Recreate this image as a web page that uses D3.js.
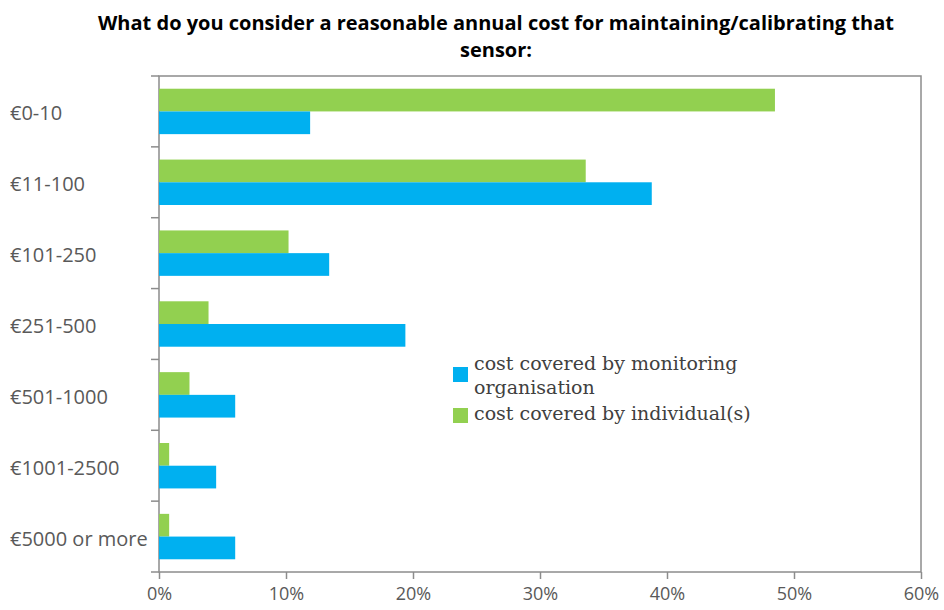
<!DOCTYPE html>
<html>
<head>
<meta charset="utf-8">
<script src="https://cdn.jsdelivr.net/npm/d3@7"></script>
<style>
	body { margin: 0; background: #fff; }
	svg { display: block; }
</style>
</head>
<body>
<div id="chart"></div>
<script>
// DATA
const categories = ['€0-10', '€11-100', '€101-250', '€251-500', '€501-1000', '€1001-2500', '€5000 or more'];
const organisation = [11.9, 38.8, 13.4, 19.4, 6.0, 4.5, 6.0];
const individual = [48.5, 33.6, 10.2, 3.9, 2.4, 0.8, 0.8];
const xTicks = [0, 10, 20, 30, 40, 50, 60];
const seriesNames = ['cost covered by monitoring organisation', 'cost covered by individual(s)'];
const titleLines = ['What do you consider a reasonable annual cost for maintaining/calibrating that', 'sensor:'];

const w = 944, h = 610;
const m = { left: 159, right: 23, top: 76, bottom: 38 };
const axisColor = '#8c8c8c';
const labelColor = '#595959';
const blue = '#00B0F0', green = '#92D050';
const tickFont = '"Open Sans", "DejaVu Sans", sans-serif';

const svg = d3.select('#chart').append('svg')
	.attr('width', w)
	.attr('height', h);

// scales
const x = d3.scaleLinear().domain([0, 60]).range([m.left, w - m.right]);
const y = d3.scaleBand().domain(categories).range([m.top, h - m.bottom]);
const sub = d3.scaleBand().domain(['ind', 'org']).range([0, y.bandwidth()]).paddingOuter(0.56).paddingInner(0);

// title
svg.append('g').selectAll('text')
	.data(titleLines)
	.enter().append('text')
	.attr('x', 496)
	.attr('y', (d, i) => 30 + i * 27)
	.attr('text-anchor', 'middle')
	.style('font-family', '"Open Sans", sans-serif')
	.style('font-weight', 'bold')
	.style('font-size', '20px')
	.style('fill', '#000')
	.text(d => d);

// plot frame
svg.append('rect')
	.attr('x', m.left)
	.attr('y', m.top)
	.attr('width', w - m.right - m.left)
	.attr('height', h - m.bottom - m.top)
	.attr('fill', 'none')
	.attr('stroke', axisColor)
	.attr('stroke-width', 1.5);

// bars
const rows = svg.append('g').selectAll('g')
	.data(categories)
	.enter().append('g')
	.attr('transform', d => `translate(0, ${y(d)})`);
rows.append('rect')
	.attr('x', x(0))
	.attr('y', sub('ind'))
	.attr('height', sub.bandwidth())
	.attr('width', (d, i) => x(individual[i]) - x(0))
	.attr('fill', green);
rows.append('rect')
	.attr('x', x(0))
	.attr('y', sub('org'))
	.attr('height', sub.bandwidth())
	.attr('width', (d, i) => x(organisation[i]) - x(0))
	.attr('fill', blue);

// axes
const yAxis = d3.axisLeft(y).tickSize(0);
const yg = svg.append('g')
	.attr('transform', `translate(${m.left}, 0)`)
	.call(yAxis);
yg.select('.domain').remove();
yg.selectAll('text')
	.attr('x', -149)
	.attr('dy', '0.45em')
	.attr('text-anchor', 'start')
	.style('font-family', tickFont)
	.style('font-size', '20px')
	.style('fill', labelColor);
// category boundary ticks
svg.append('g').selectAll('line')
	.data(categories.concat(['end']))
	.enter().append('line')
	.attr('x1', m.left - 8)
	.attr('x2', m.left)
	.attr('y1', (d, i) => i < categories.length ? y(d) : h - m.bottom)
	.attr('y2', (d, i) => i < categories.length ? y(d) : h - m.bottom)
	.attr('stroke', axisColor)
	.attr('stroke-width', 1.5);

const xAxis = d3.axisBottom(x).tickValues(xTicks).tickFormat(d => d + '%').tickSize(7).tickPadding(8);
const xg = svg.append('g')
	.attr('transform', `translate(0, ${h - m.bottom})`)
	.call(xAxis);
xg.select('.domain').remove();
xg.selectAll('line').attr('stroke', axisColor).attr('stroke-width', 1.5);
xg.selectAll('text')
	.style('font-family', tickFont)
	.style('font-size', '18px')
	.style('fill', labelColor);

// legend
const legend = svg.append('g').attr('transform', 'translate(453, 0)');
const legendFont = '"DejaVu Serif", "Liberation Serif", serif';
legend.append('rect').attr('x', 0).attr('y', 367).attr('width', 15).attr('height', 15).attr('fill', blue);
legend.append('rect').attr('x', 0).attr('y', 408).attr('width', 15).attr('height', 15).attr('fill', green);
const legendLines = [['cost covered by monitoring', 370], ['organisation', 394], [seriesNames[1], 420]];
legend.selectAll('text.lg')
	.data(legendLines)
	.enter().append('text')
	.attr('class', 'lg')
	.attr('x', 21)
	.attr('y', d => d[1])
	.style('font-family', legendFont)
	.style('font-size', '19px')
	.style('fill', '#404040')
	.text(d => d[0]);
</script>
</body>
</html>
